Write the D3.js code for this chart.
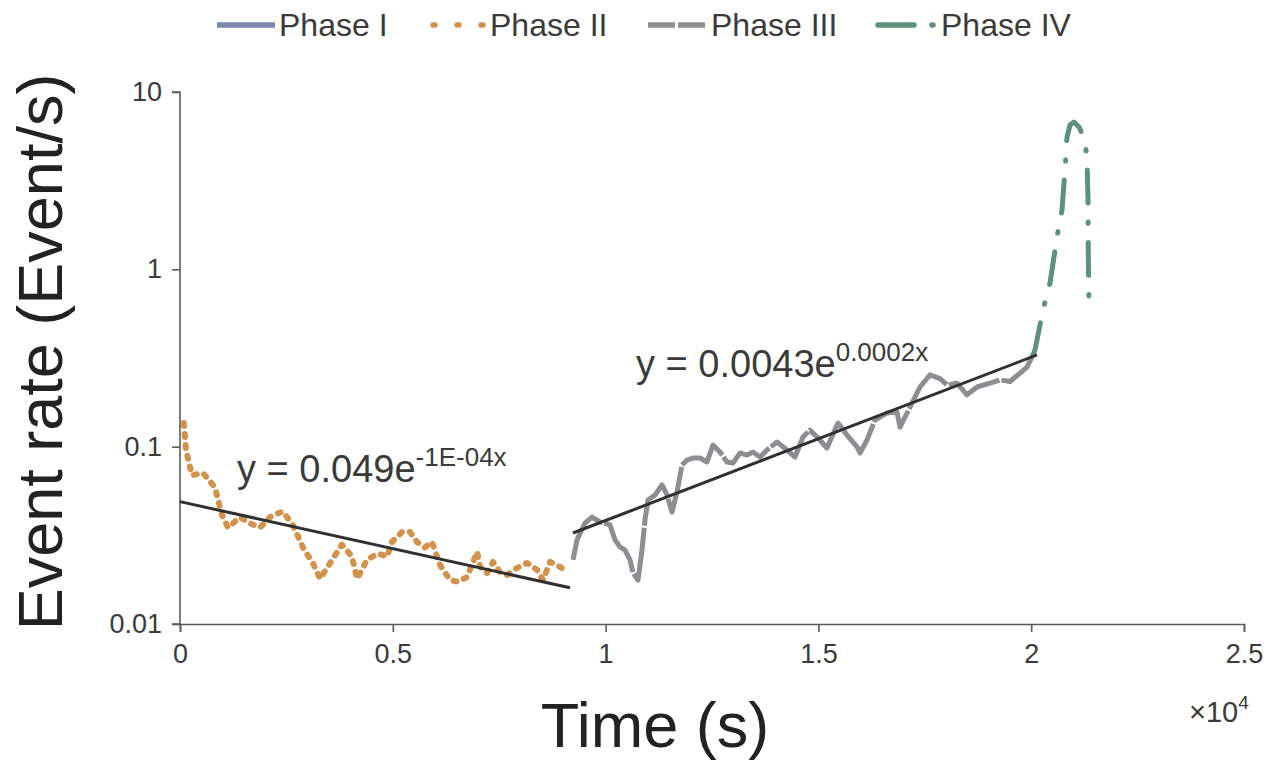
<!DOCTYPE html>
<html>
<head>
<meta charset="utf-8">
<script src="https://cdn.jsdelivr.net/npm/d3@7"></script>
<style>
  html, body { margin: 0; padding: 0; background: #fff; }
  svg { display: block; font-family: "Liberation Sans", Arial, sans-serif; }
</style>
</head>
<body>
<svg id="chart" width="1281" height="764"></svg>
<script>
// ---------------- data ----------------
const seriesNames = ["Phase I", "Phase II", "Phase III", "Phase IV"];

const phaseI_t = [];
const phaseI_r = [];

const phaseII_t = [90,140,280,540,820,990,1130,1410,1645,1880,2160,2420,2655,2890,3125,3290,3525,3805,4040,4160,4395,4650,4865,4980,5215,5405,5570,5755,5920,6110,6345,6530,6745,6980,7050,7215,7355,7520,7685,7920,8155,8390,8530,8695,8930,9115];
const phaseII_r = [0.136,0.096,0.069,0.071,0.059,0.041,0.035,0.040,0.037,0.035,0.041,0.043,0.036,0.027,0.022,0.018,0.022,0.028,0.024,0.018,0.023,0.025,0.024,0.029,0.033,0.033,0.029,0.027,0.029,0.0215,0.0177,0.0173,0.0184,0.0255,0.021,0.0194,0.0224,0.0196,0.0189,0.0207,0.0221,0.0202,0.0177,0.0224,0.021,0.0196];

const phaseIII_t = [9234,9328,9516,9680,9868,10103,10221,10338,10456,10574,10644,10761,10855,10926,10996,11161,11325,11443,11560,11678,11795,11912,12053,12218,12382,12523,12688,12852,12993,13158,13322,13463,13628,13792,14027,14262,14450,14638,14802,14990,15202,15460,15672,15907,15977,16142,16330,16612,16847,16917,17152,17387,17622,17857,18021,18256,18491,18726,19032,19267,19502,19737,19901,20042];
const phaseIII_r = [0.0230,0.0298,0.0371,0.0401,0.0376,0.0362,0.0298,0.0272,0.0261,0.0230,0.0194,0.0177,0.0261,0.0386,0.0500,0.0534,0.0608,0.0534,0.0428,0.0555,0.0788,0.0841,0.0863,0.0863,0.0820,0.102,0.0933,0.0820,0.0809,0.0921,0.0897,0.0933,0.0874,0.0958,0.1062,0.0958,0.0874,0.1134,0.124,0.1119,0.0983,0.136,0.1163,0.0996,0.0921,0.1091,0.1414,0.155,0.157,0.129,0.167,0.217,0.254,0.242,0.223,0.228,0.196,0.217,0.228,0.238,0.233,0.260,0.281,0.329];

const phaseIV_t = [20042,20089,20277,20442,20606,20724,20794,20841,20912,21006,21123,21264,21311,21335,21340,21358];
const phaseIV_r = [0.329,0.351,0.590,0.837,1.52,2.16,3.63,5.57,6.51,6.77,6.35,5.36,4.14,2.46,1.29,0.605];

// exponential trend lines (end points of the fitted lines)
const fitII_t = [0, 9163];
const fitII_r = [0.049, 0.0160];
const fitIII_t = [9234, 20136];
const fitIII_r = [0.0326, 0.329];

const eqII = ["y = 0.049e", "-1E-04x"];
const eqIII = ["y = 0.0043e", "0.0002x"];

const xTickValues = [0, 5000, 10000, 15000, 20000, 25000];
const xTickLabels = ["0", "0.5", "1", "1.5", "2", "2.5"];
const yTickValues = [0.01, 0.1, 1, 10];
const yTickLabels = ["0.01", "0.1", "1", "10"];

const xTitle = "Time (s)";
const yTitle = "Event rate (Event/s)";

// ---------------- layout ----------------
const svg = d3.select("#chart");
const L = 180, R = 1244, T = 92, B = 624;
const x = d3.scaleLinear().domain([0, 25000]).range([L, R]);
const y = d3.scaleLog().domain([0.01, 10]).range([B, T]);

const textColor = "#3a3a3a";
const axisColor = "#5a5a5a";
const colors = {
  "Phase I": "#7b87ab",
  "Phase II": "#d2924c",
  "Phase III": "#8d8e92",
  "Phase IV": "#5e917b"
};

// axes
const yAxis = d3.axisLeft(y).tickValues(yTickValues)
  .tickFormat((d, i) => yTickLabels[i]).tickSize(8).tickPadding(10);
const xAxis = d3.axisBottom(x).tickValues(xTickValues)
  .tickFormat((d, i) => xTickLabels[i]).tickSize(8).tickPadding(12);

const gy = svg.append("g").attr("transform", `translate(${L},0)`).call(yAxis);
const gx = svg.append("g").attr("transform", `translate(0,${B})`).call(xAxis);
[gx, gy].forEach(g => {
  g.select(".domain").attr("stroke", axisColor).attr("stroke-width", 1.6);
  g.selectAll(".tick line").attr("stroke", axisColor).attr("stroke-width", 1.6);
  g.selectAll(".tick text").attr("fill", textColor)
    .style("font-size", "27px").style("font-family", "'Liberation Sans', Arial, sans-serif");
});
gy.select(".domain").attr("d", `M-8,${T}H0V${B}H-8`);

// axis titles
svg.append("text").attr("x", 655).attr("y", 747).attr("text-anchor", "middle")
  .attr("fill", "#222").style("font-size", "63px").text(xTitle);
svg.append("text").attr("transform", "translate(62,352) rotate(-90)")
  .attr("text-anchor", "middle").attr("fill", "#222").style("font-size", "63px").text(yTitle);

// x multiplier
const mult = svg.append("text").attr("x", 1189).attr("y", 722).attr("fill", textColor)
  .style("font-size", "29px");
mult.append("tspan").text("\u00d710");
mult.append("tspan").attr("dy", -13).style("font-size", "19px").text("4");

// lines
const line = d3.line().x(d => x(d[0])).y(d => y(d[1]));
const zip = (a, b) => a.map((v, i) => [v, b[i]]);

const styles = {
  "Phase I":   { width: 5, dash: null, cap: "round" },
  "Phase II":  { width: 6, dash: "3,8", cap: "round" },
  "Phase III": { width: 5, dash: "60,2", cap: "butt" },
  "Phase IV":  { width: 5, dash: "33,19,1.5,19", cap: "round" }
};

const seriesData = {
  "Phase I": zip(phaseI_t, phaseI_r),
  "Phase II": zip(phaseII_t, phaseII_r),
  "Phase III": zip(phaseIII_t, phaseIII_r),
  "Phase IV": zip(phaseIV_t, phaseIV_r)
};

seriesNames.forEach(name => {
  const data = seriesData[name];
  if (!data.length) return;
  const st = styles[name];
  svg.append("path").datum(data).attr("d", line)
    .attr("fill", "none").attr("stroke", colors[name])
    .attr("stroke-width", st.width).attr("stroke-linecap", st.cap)
    .attr("stroke-linejoin", "round")
    .attr("stroke-dasharray", st.dash);
});

// trend lines
[[fitII_t, fitII_r], [fitIII_t, fitIII_r]].forEach(([t, r]) => {
  svg.append("path").datum(zip(t, r)).attr("d", line)
    .attr("fill", "none").attr("stroke", "#303030").attr("stroke-width", 3);
});

// equations
function equation(px, py, parts) {
  const t = svg.append("text").attr("x", px).attr("y", py).attr("fill", textColor)
    .style("font-size", "38px");
  t.append("tspan").text(parts[0]);
  t.append("tspan").attr("dy", -16).style("font-size", "26px").text(parts[1]);
}
equation(237, 482, eqII);
equation(636, 377, eqIII);

// legend
const legendItems = [
  { name: "Phase I",   x0: 217, x1: 275, tx: 279 },
  { name: "Phase II",  x0: 433, x1: 484, tx: 490 },
  { name: "Phase III", x0: 648, x1: 706, tx: 711 },
  { name: "Phase IV",  x0: 878, x1: 935, tx: 941 }
];
const legendDash = {
  "Phase I": null,
  "Phase II": "2,22",
  "Phase III": "27,3",
  "Phase IV": "36,18,1,20"
};
legendItems.forEach(it => {
  svg.append("line").attr("x1", it.x0).attr("x2", it.x1).attr("y1", 25).attr("y2", 25)
    .attr("stroke", colors[it.name]).attr("stroke-width", 5.5)
    .attr("stroke-linecap", it.name === "Phase II" || it.name === "Phase IV" ? "round" : "butt")
    .attr("stroke-dasharray", legendDash[it.name]);
  svg.append("text").attr("x", it.tx).attr("y", 36).attr("fill", textColor)
    .style("font-size", "32px").text(it.name);
});
</script>
</body>
</html>
